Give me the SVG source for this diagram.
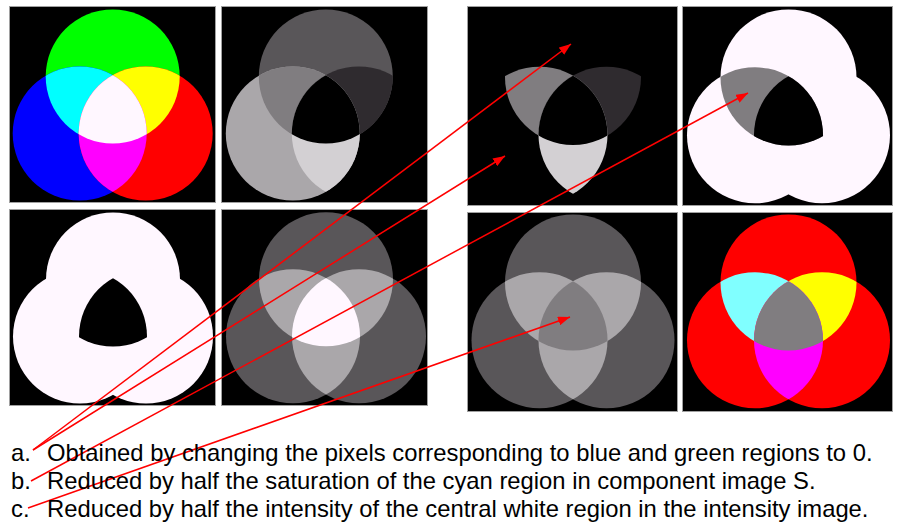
<svg xmlns="http://www.w3.org/2000/svg" xmlns:xlink="http://www.w3.org/1999/xlink" width="899" height="530" viewBox="0 0 899 530">
<style>
.panel{fill:#000;stroke:#a0a0a0;stroke-width:1}
.lbl{font-family:"Liberation Sans",Arial,sans-serif;font-size:23.8px;fill:#000}
.arr{stroke:#f00;stroke-width:1.5;fill:none;marker-end:url(#ah)}
</style>
<defs>
<circle id="cg" cx="0" cy="-38" r="67"/>
<circle id="cb" cx="-33" cy="19" r="67"/>
<circle id="cr" cx="33" cy="19" r="67"/>
<clipPath id="kg"><use href="#cg"/></clipPath>
<clipPath id="kb"><use href="#cb"/></clipPath>
<clipPath id="kr"><use href="#cr"/></clipPath>
<marker id="ah" viewBox="0 0 12 9" refX="12" refY="4.5" markerWidth="12" markerHeight="9" markerUnits="userSpaceOnUse" orient="auto">
<path d="M0,0 L12,4.5 L0,9 Z" fill="#f00"/>
</marker>
</defs>

<g id="p1-rgb">
<rect class="panel" x="9.5" y="6.5" width="206" height="196"/>
<g transform="translate(112.7,114.5)">
<use href="#cg" fill="#00ff00"/>
<use href="#cb" fill="#0000ff"/>
<use href="#cr" fill="#ff0000"/>
<use href="#cg" clip-path="url(#kb)" fill="#00ffff"/>
<use href="#cg" clip-path="url(#kr)" fill="#ffff00"/>
<use href="#cb" clip-path="url(#kr)" fill="#ff00ff"/>
<g clip-path="url(#kr)"><use href="#cg" clip-path="url(#kb)" fill="#fff7ff"/></g>
</g>
</g>

<g id="p2-hue">
<rect class="panel" x="221.5" y="6.5" width="206" height="196"/>
<g transform="translate(325.8,114.5)">
<use href="#cg" fill="#595659"/>
<use href="#cb" fill="#aaa7aa"/>
<use href="#cg" clip-path="url(#kb)" fill="#807d80"/>
<use href="#cg" clip-path="url(#kr)" fill="#2f2b2f"/>
<use href="#cb" clip-path="url(#kr)" fill="#d3d0d3"/>
<g clip-path="url(#kr)"><use href="#cg" clip-path="url(#kb)" fill="#000"/></g>
</g>
</g>

<g id="p3-hue-mod">
<rect class="panel" x="467.5" y="6.5" width="210" height="199"/>
<g transform="translate(573,115.5) scale(1.015)">
<use href="#cg" clip-path="url(#kb)" fill="#807d80"/>
<use href="#cg" clip-path="url(#kr)" fill="#2f2b2f"/>
<use href="#cb" clip-path="url(#kr)" fill="#d3d0d3"/>
<g clip-path="url(#kr)"><use href="#cg" clip-path="url(#kb)" fill="#000"/></g>
</g>
</g>

<g id="p4-sat-mod">
<rect class="panel" x="682.5" y="6.5" width="210" height="199"/>
<g transform="translate(788.5,116) scale(1.015)">
<use href="#cg" fill="#fff7ff"/>
<use href="#cb" fill="#fff7ff"/>
<use href="#cr" fill="#fff7ff"/>
<use href="#cg" clip-path="url(#kb)" fill="#807d80"/>
<g clip-path="url(#kr)"><use href="#cg" clip-path="url(#kb)" fill="#000"/></g>
</g>
</g>

<g id="p5-sat">
<rect class="panel" x="9.5" y="209.5" width="206" height="196"/>
<g transform="translate(113,317.5)">
<use href="#cg" fill="#fff7ff"/>
<use href="#cb" fill="#fff7ff"/>
<use href="#cr" fill="#fff7ff"/>
<g clip-path="url(#kr)"><use href="#cg" clip-path="url(#kb)" fill="#000"/></g>
</g>
</g>

<g id="p6-int">
<rect class="panel" x="221.5" y="209.5" width="206" height="196"/>
<g transform="translate(326,317.3)">
<use href="#cg" fill="#595659"/>
<use href="#cb" fill="#595659"/>
<use href="#cr" fill="#595659"/>
<use href="#cg" clip-path="url(#kb)" fill="#aaa7aa"/>
<use href="#cg" clip-path="url(#kr)" fill="#aaa7aa"/>
<use href="#cb" clip-path="url(#kr)" fill="#aaa7aa"/>
<g clip-path="url(#kr)"><use href="#cg" clip-path="url(#kb)" fill="#fff7ff"/></g>
</g>
</g>

<g id="p7-int-mod">
<rect class="panel" x="467.5" y="212.5" width="210" height="199"/>
<g transform="translate(573,321) scale(1.015)">
<use href="#cg" fill="#595659"/>
<use href="#cb" fill="#595659"/>
<use href="#cr" fill="#595659"/>
<use href="#cg" clip-path="url(#kb)" fill="#aaa7aa"/>
<use href="#cg" clip-path="url(#kr)" fill="#aaa7aa"/>
<use href="#cb" clip-path="url(#kr)" fill="#aaa7aa"/>
<g clip-path="url(#kr)"><use href="#cg" clip-path="url(#kb)" fill="#807d80"/></g>
</g>
</g>

<g id="p8-rgb-mod">
<rect class="panel" x="682.5" y="212.5" width="210" height="199"/>
<g transform="translate(788.5,321) scale(1.015)">
<use href="#cg" fill="#ff0000"/>
<use href="#cb" fill="#ff0000"/>
<use href="#cr" fill="#ff0000"/>
<use href="#cg" clip-path="url(#kb)" fill="#80ffff"/>
<use href="#cg" clip-path="url(#kr)" fill="#ffff00"/>
<use href="#cb" clip-path="url(#kr)" fill="#ff00ff"/>
<g clip-path="url(#kr)"><use href="#cg" clip-path="url(#kb)" fill="#807d80"/></g>
</g>
</g>

<g id="connectors">
<line class="arr" x1="33" y1="450" x2="571" y2="44"/>
<line class="arr" x1="33" y1="450" x2="505" y2="156"/>
<line class="arr" x1="31" y1="481" x2="748" y2="93"/>
<line class="arr" x1="28" y1="508" x2="570" y2="317"/>
</g>

<g id="captions">
<text class="lbl" x="11" y="461">a.</text>
<text class="lbl" x="47" y="461">Obtained by changing the pixels corresponding to blue and green regions to 0.</text>
<text class="lbl" x="11" y="489">b.</text>
<text class="lbl" x="47" y="489">Reduced by half the saturation of the cyan region in component image S.</text>
<text class="lbl" x="11" y="517">c.</text>
<text class="lbl" x="47" y="517">Reduced by half the intensity of the central white region in the intensity image.</text>
</g>
</svg>
